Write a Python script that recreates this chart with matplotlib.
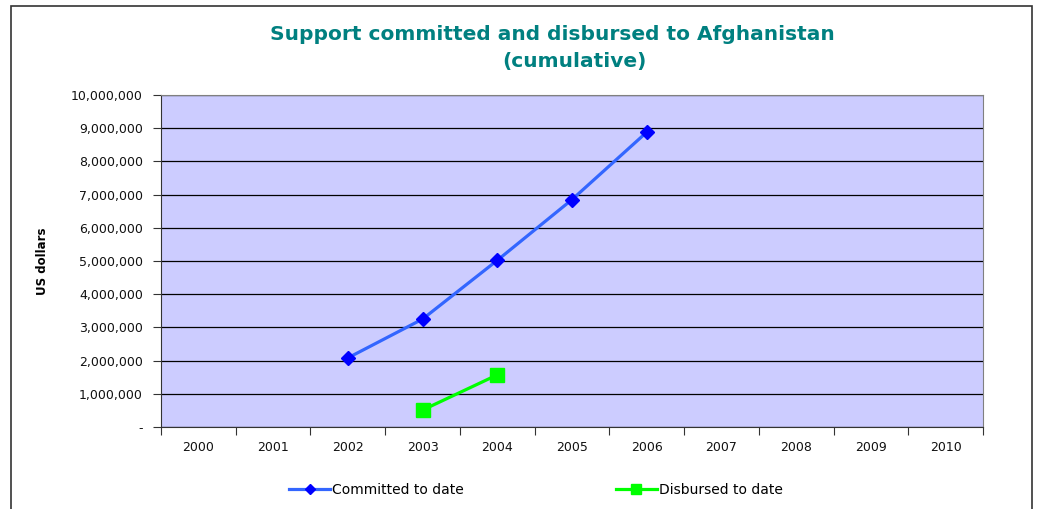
import numpy as np
import matplotlib
matplotlib.use('Agg')
import matplotlib.pyplot as plt
from matplotlib.patches import Rectangle
from matplotlib.ticker import FuncFormatter

years = ['2000', '2001', '2002', '2003', '2004', '2005', '2006', '2007', '2008', '2009', '2010']
committed_years = ['2002', '2003', '2004', '2005', '2006']
committed = [2080000, 3250000, 5020000, 6850000, 8880000]
disbursed_years = ['2003', '2004']
disbursed = [510000, 1570000]

plt.rcParams['font.family'] = ['DejaVu Sans']

fig = plt.figure(figsize=(10.44, 5.09), dpi=100)
fig.patch.set_facecolor('white')
# outer chart border
fig.patches.append(Rectangle((11 / 1044, -0.05), 1021 / 1044, 1.05 - 6 / 509,
                             transform=fig.transFigure, fill=False,
                             edgecolor='#333333', linewidth=1.2))

ax = fig.add_axes([161 / 1044, 82 / 509, 822 / 1044, 332 / 509])
ax.set_facecolor('#CCCCFF')

xc = [years.index(y) for y in committed_years]
xd = [years.index(y) for y in disbursed_years]
ax.plot(xc, committed, color='#3366FF', lw=2.3, marker='D', ms=7,
        mfc='#0000FF', mec='#0000FF', label='Committed to date', zorder=3)
ax.plot(xd, disbursed, color='#00FF00', lw=2.3, marker='s', ms=9.5,
        mfc='#00FF00', mec='#00FF00', label='Disbursed to date', zorder=3)

ax.set_xlim(-0.5, len(years) - 0.5)
ax.set_ylim(0, 10000000)
ax.set_yticks(np.arange(0, 10000001, 1000000))
ax.yaxis.set_major_formatter(FuncFormatter(lambda v, p: '-' if v == 0 else f'{int(v):,}'))
ax.grid(axis='y', color='black', lw=0.9)
ax.set_axisbelow(True)

ax.set_xticks(np.arange(-0.5, len(years), 1))
ax.set_xticklabels([])
ax.set_xticks(np.arange(len(years)), minor=True)
ax.set_xticklabels(years, minor=True)
ax.tick_params(axis='x', which='minor', length=0, pad=10, labelsize=9, labelcolor='#111111')
ax.tick_params(axis='x', which='major', length=6, color='#333333')
ax.tick_params(axis='y', length=6, labelsize=9, color='#333333', labelcolor='#111111', pad=7)

for s in ax.spines.values():
    s.set_color('#808080')
ax.spines['bottom'].set_color('#333333')
ax.spines['left'].set_color('#333333')

ax.set_ylabel('US dollars', fontweight='bold', fontsize=8.5, labelpad=16)

fig.text(552 / 1044, 1 - 35 / 509, 'Support committed and disbursed to Afghanistan',
         ha='center', va='center', color='#008080', fontweight='bold', fontsize=14.5)
fig.text(574 / 1044, 1 - 62 / 509, '(cumulative)',
         ha='center', va='center', color='#008080', fontweight='bold', fontsize=14.5)

fig.legend(loc='center', bbox_to_anchor=(536 / 1044, 1 - 490 / 509), ncol=2, frameon=False,
           fontsize=10, columnspacing=11, handlelength=2.9, handletextpad=0.15,
           markerscale=0.8, borderpad=0)

fig.savefig('out.png', dpi=100)
